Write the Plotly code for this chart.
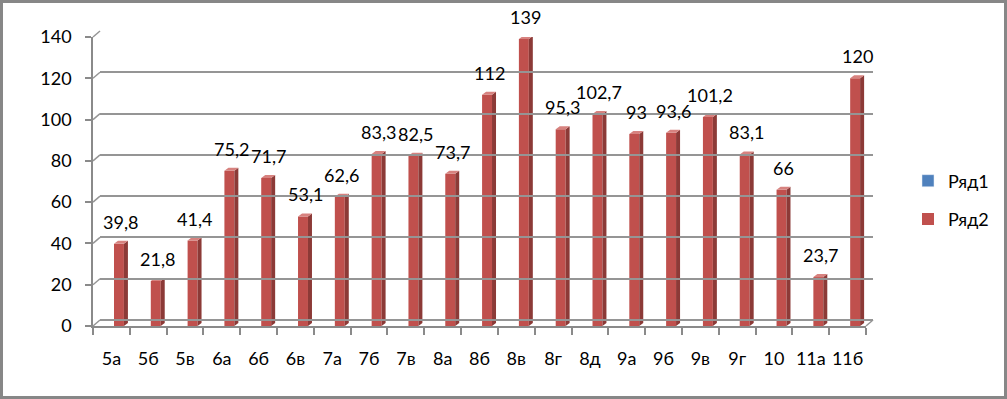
import plotly.graph_objects as go

categories = ["5а", "5б", "5в", "6а", "6б", "6в", "7а", "7б", "7в", "8а", "8б",
              "8в", "8г", "8д", "9а", "9б", "9в", "9г", "10", "11а", "11б"]
series1 = [None] * len(categories)
series2 = [39.8, 21.8, 41.4, 75.2, 71.7, 53.1, 62.6, 83.3, 82.5, 73.7, 112,
           139, 95.3, 102.7, 93, 93.6, 101.2, 83.1, 66, 23.7, 120]
y_ticks = [0, 20, 40, 60, 80, 100, 120, 140]

W, H = 1007, 399
ML, MR, MT, MB = 93, 134, 31, 73
PW, PH = W - ML - MR, H - MT - MB
DEPTH_X, DEPTH_Y = 7, 6          # back wall offset in px
FONT = "Lato"
GRID = "#959595"
AXIS = "#8a8a8a"

n = len(categories)
front_w = PW - DEPTH_X
cat_px = front_w / n
y_px = (PH - DEPTH_Y) / 140.0
b_off, b_w = 0.07, 0.27
dx, dy = 4 / cat_px, 3 / y_px

fig = go.Figure()
fig.add_trace(go.Scatter(x=[None], y=[None], xaxis="x2", yaxis="y2", showlegend=False))
fig.add_trace(go.Bar(name="Ряд1", x=categories, y=series1, marker_color="#4F81BD",
                     width=b_w, offset=b_off - 0.3, legendgroup="a"))
fig.add_trace(go.Bar(name="Ряд2", x=categories, y=series2, marker_color="#C0504D",
                     marker_line_width=0, width=b_w, offset=b_off, legendgroup="b"))

sx, sy, tx, ty = [], [], [], []
for i, v in enumerate(series2):
    x0 = i + b_off
    x1 = x0 + b_w
    sx += [x1, x1 + dx, x1 + dx, x1, x1, None]
    sy += [0, dy, v + dy, v, 0, None]
    tx += [x0, x1, x1 + dx, x0 + dx, x0, None]
    ty += [v, v, v + dy, v + dy, v, None]
fig.add_trace(go.Scatter(x=sx, y=sy, xaxis="x3", yaxis="y", mode="lines", fill="toself",
                         fillcolor="#8C3A37", line=dict(width=0), showlegend=False,
                         hoverinfo="skip"))
fig.add_trace(go.Scatter(x=tx, y=ty, xaxis="x3", yaxis="y", mode="lines", fill="toself",
                         fillcolor="#D7827F", line=dict(width=0), showlegend=False,
                         hoverinfo="skip"))

for i, v in enumerate(series2):
    fig.add_annotation(x=i + b_off + b_w / 2 + dx / 2, y=v, xref="x3", yref="y",
                       text=f"{v:g}".replace(".", ","),
                       showarrow=False, yanchor="bottom", xanchor="center", yshift=9,
                       font=dict(family=FONT, size=18, color="black"))

shapes = []
fx = front_w / PW
fy = (PH - DEPTH_Y) / PH
bx0 = DEPTH_X / PW
by0 = DEPTH_Y / PH
for t in y_ticks:
    yy = t / 140 * fy
    shapes.append(dict(type="line", xref="paper", yref="paper", x0=0, y0=yy,
                       x1=bx0, y1=yy + by0, line=dict(color=GRID, width=1.5)))
shapes.append(dict(type="line", xref="paper", yref="paper", x0=fx, y0=0,
                   x1=1, y1=by0, line=dict(color=GRID, width=1.5)))
shapes.append(dict(type="rect", xref="paper", yref="paper",
                   x0=(1.5 - ML) / PW, x1=(W - 1.5 - ML) / PW,
                   y0=-(MB - 1.5) / PH, y1=1 + (MT - 1.5) / PH,
                   line=dict(color="#878787", width=3), layer="above"))

fig.update_layout(
    width=W, height=H, autosize=False,
    margin=dict(l=ML, r=MR, t=MT, b=MB, pad=0),
    paper_bgcolor="white", plot_bgcolor="rgba(0,0,0,0)",
    barmode="overlay", showlegend=True,
    font=dict(family=FONT, size=18, color="black"),
    legend=dict(x=(908 - ML) / PW, xanchor="left", y=(H - MB - 200) / PH, yanchor="middle",
                tracegroupgap=12, font=dict(family=FONT, size=18), bgcolor="rgba(0,0,0,0)"),
    xaxis=dict(domain=[0, fx], type="category", range=[-0.5, n - 0.5], showline=True,
               linecolor=AXIS, linewidth=1.5, ticks="outside", tickson="boundaries",
               ticklen=7, tickcolor=AXIS, tickwidth=1.5, showgrid=False, tickangle=0,
               tickfont=dict(family=FONT, size=18), ticklabelstandoff=16, anchor="y"),
    yaxis=dict(domain=[0, fy], range=[0, 140], tickvals=y_ticks, showline=True,
               linecolor=AXIS, linewidth=1.5, ticks="outside", ticklen=6, tickcolor=AXIS,
               tickwidth=1.5, showgrid=False, zeroline=False,
               tickfont=dict(family=FONT, size=18), ticklabelstandoff=10, anchor="x"),
    xaxis2=dict(domain=[bx0, 1], range=[0, 1], visible=False, anchor="y2"),
    yaxis2=dict(domain=[by0, 1], range=[0, 140], tickvals=y_ticks, showgrid=True,
                gridcolor=GRID, gridwidth=1.5, zeroline=True, zerolinecolor=GRID,
                zerolinewidth=1.5, showticklabels=False, ticks="", showline=False,
                anchor="x2"),
    xaxis3=dict(overlaying="x", range=[-0.5, n - 0.5], visible=False, anchor="y"),
    shapes=shapes,
)

fig.write_html("out.html")
